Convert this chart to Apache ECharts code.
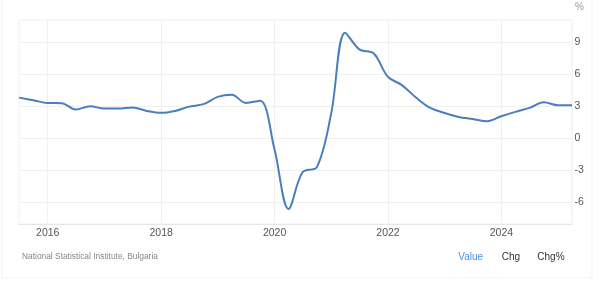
<!DOCTYPE html>
<html>
<head>
<meta charset="utf-8">
<script src="https://cdn.jsdelivr.net/npm/echarts@6/dist/echarts.min.js"></script>
<style>
html,body{margin:0;padding:0;background:#fff;}
#chart{width:602px;height:281px;}
</style>
</head>
<body>
<div id="chart"></div>
<script>
// Quarter-end dates (2015 Q2 .. 2025 Q1)
const quarters = [
  '2015-06-30','2015-09-30','2015-12-31','2016-03-31','2016-06-30','2016-09-30','2016-12-31','2017-03-31',
  '2017-06-30','2017-09-30','2017-12-31','2018-03-31','2018-06-30','2018-09-30','2018-12-31','2019-03-31',
  '2019-06-30','2019-09-30','2019-12-31','2020-03-31','2020-06-30','2020-09-30','2020-12-31','2021-03-31',
  '2021-06-30','2021-09-30','2021-12-31','2022-03-31','2022-06-30','2022-09-30','2022-12-31','2023-03-31',
  '2023-06-30','2023-09-30','2023-12-31','2024-03-31','2024-06-30','2024-09-30','2024-12-31','2025-03-31'
];
// GDP annual growth rate, %
const values = [
  3.8, 3.56, 3.3, 3.28, 2.69, 3.0, 2.78, 2.78, 2.88, 2.56,
  2.38, 2.56, 2.96, 3.19, 3.87, 4.06, 3.31, 3.5, -1.0, -6.6,
  -3.15, -2.69, 2.31, 9.87, 8.31, 7.94, 5.75, 4.97, 3.81, 2.84,
  2.37, 2.0, 1.81, 1.59, 2.06, 2.47, 2.84, 3.37, 3.09, 3.09
];
const xTickYears = [2016, 2018, 2020, 2022, 2024];
const yTicks = [-6, -3, 0, 3, 6, 9];
const sourceText = 'National Statistical Institute, Bulgaria';
const tabLabels = ['Value', 'Chg', 'Chg%'];

// date string -> decimal year
const toYear = s => {
  const d = new Date(s + 'T00:00:00Z');
  const y = d.getUTCFullYear();
  const start = Date.UTC(y, 0, 1), end = Date.UTC(y + 1, 0, 1);
  return y + (d.getTime() - start) / (end - start);
};
const seriesData = quarters.map((q, i) => [toYear(q), values[i]]);
const FONT = 'Arial, "Liberation Sans", sans-serif';

const chart = echarts.init(document.getElementById('chart'), null, {renderer: 'canvas'});
chart.setOption({
  animation: false,
  backgroundColor: '#fff',
  grid: {
    left: 19, right: 30, top: 20, bottom: 57,
    show: true, borderColor: '#efefef', borderWidth: 1
  },
  xAxis: {
    type: 'value',
    min: toYear(quarters[0]),
    max: toYear(quarters[quarters.length - 1]),
    axisLine: {show: true, onZero: false, lineStyle: {color: '#e6e6e6'}},
    axisTick: {show: false, customValues: xTickYears},
    axisLabel: {
      customValues: xTickYears,
      formatter: v => String(v),
      color: '#555', fontSize: 10.5, fontFamily: FONT,
      margin: 3.5
    },
    splitLine: {show: true, lineStyle: {color: '#f0f0f0'}}
  },
  yAxis: {
    type: 'value',
    position: 'right',
    min: -8, max: 11.05,
    name: '%',
    nameLocation: 'end',
    nameGap: 8,
    nameTextStyle: {color: '#999', fontSize: 10, align: 'left', padding: [0,0,0,3], fontFamily: FONT},
    axisLine: {show: false},
    axisTick: {show: false, customValues: yTicks},
    axisLabel: {
      customValues: yTicks,
      color: '#555', fontSize: 10.5, margin: 2.5,
      fontFamily: FONT
    },
    splitLine: {show: true, lineStyle: {color: '#f0f0f0'}}
  },
  series: [{
    type: 'line',
    data: seriesData,
    smooth: 0.35,
    showSymbol: false,
    lineStyle: {color: '#4a7ebf', width: 2},
    itemStyle: {color: '#4a7ebf'}
  }],
  graphic: [
    {type: 'line', shape: {x1: 2, y1: 0, x2: 2, y2: 278}, style: {stroke: '#f2f2f2', lineWidth: 1}},
    {type: 'line', shape: {x1: 592, y1: 0, x2: 592, y2: 278}, style: {stroke: '#f2f2f2', lineWidth: 1}},
    {type: 'line', shape: {x1: 2, y1: 278, x2: 592, y2: 278}, style: {stroke: '#f2f2f2', lineWidth: 1}},
    {type: 'text', x: 22, y: 257, style: {text: sourceText, fill: '#888', fontSize: 8.4, fontFamily: FONT, verticalAlign: 'middle'}},
    {type: 'text', x: 458.3, y: 257.5, style: {text: tabLabels[0], fill: '#4a90e2', fontSize: 10, fontFamily: FONT, verticalAlign: 'middle'}},
    {type: 'text', x: 501.7, y: 257.5, style: {text: tabLabels[1], fill: '#333', fontSize: 10, fontFamily: FONT, verticalAlign: 'middle'}},
    {type: 'text', x: 537.3, y: 257.5, style: {text: tabLabels[2], fill: '#333', fontSize: 10, fontFamily: FONT, verticalAlign: 'middle'}}
  ]
});
</script>
</body>
</html>
